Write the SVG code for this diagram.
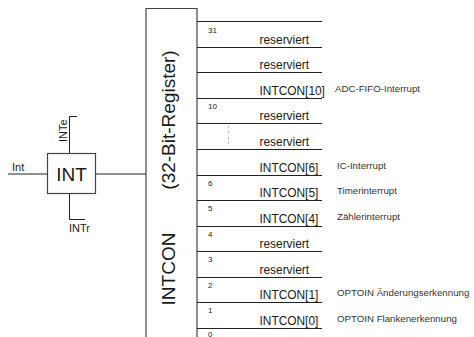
<svg xmlns="http://www.w3.org/2000/svg" width="474" height="337" viewBox="0 0 474 337">
<style>
text{font-family:"Liberation Sans",Arial,sans-serif;fill:#1a1a1a}
.ln{stroke:#222;stroke-width:1;fill:none}
.box{stroke:#444;stroke-width:1.2;fill:#fff}
.reg{font-size:11.9px}
.num{font-size:8px}
.desc{font-size:9.7px;fill:#333}
.big{font-size:19px}
.sm{font-size:11px}
.dot{fill:#555}
</style>
<g id="connectors">
<line class="ln" x1="8" y1="174" x2="47.5" y2="174"/>
<line class="ln" x1="95.5" y1="174" x2="146" y2="174"/>
<polyline class="ln" points="69.5,153.5 69.5,116.5 77,116.5"/>
<polyline class="ln" points="69.5,193.5 69.5,219.5 85,219.5"/>
</g>
<g id="int-block">
<rect class="box" x="47.5" y="153.5" width="48" height="40"/>
<text class="big" x="71.5" y="181" text-anchor="middle">INT</text>
</g>
<g id="int-labels">
<text class="sm" x="12" y="171">Int</text>
<text class="sm" x="67" y="142" transform="rotate(-90 67 142)">INTe</text>
<text class="sm" x="69" y="232">INTr</text>
</g>
<g id="register">
<polyline class="box" fill="none" points="146,337 146,8.5 197,8.5 197,337"/>
<text class="big" x="175" y="120" text-anchor="middle" transform="rotate(-90 175 120)">(32-Bit-Register)</text>
<text class="big" x="175" y="269" text-anchor="middle" transform="rotate(-90 175 269)">INTCON</text>
</g>
<g id="rows">
<g class="ln">
<line x1="197" y1="21.5" x2="322" y2="21.5"/>
<line x1="197" y1="47.5" x2="322" y2="47.5"/>
<line x1="197" y1="72.5" x2="322" y2="72.5"/>
<line x1="197" y1="98.5" x2="322" y2="98.5"/>
<line x1="197" y1="123.5" x2="322" y2="123.5"/>
<line x1="197" y1="149.5" x2="322" y2="149.5"/>
<line x1="197" y1="175.5" x2="322" y2="175.5"/>
<line x1="197" y1="200.5" x2="322" y2="200.5"/>
<line x1="197" y1="226.5" x2="322" y2="226.5"/>
<line x1="197" y1="251.5" x2="322" y2="251.5"/>
<line x1="197" y1="277.5" x2="322" y2="277.5"/>
<line x1="197" y1="302.5" x2="322" y2="302.5"/>
<line x1="197" y1="328.5" x2="322" y2="328.5"/>
</g>
<g id="bit-numbers">
<text class="num" x="208" y="32.5">31</text>
<text class="num" x="208" y="109">10</text>
<text class="num" x="208" y="186">6</text>
<text class="num" x="208" y="211">5</text>
<text class="num" x="208" y="237">4</text>
<text class="num" x="208" y="262">3</text>
<text class="num" x="208" y="288">2</text>
<text class="num" x="208" y="313">1</text>
<text class="num" x="208" y="336.5">0</text>
</g>
<g id="dots">
<circle class="dot" cx="228.5" cy="127" r="0.6"/>
<circle class="dot" cx="228.5" cy="132" r="0.6"/>
<circle class="dot" cx="228.5" cy="138" r="0.6"/>
<circle class="dot" cx="228.5" cy="143" r="0.6"/>
</g>
<g id="bit-labels">
<text class="reg" x="259.5" y="44">reserviert</text>
<text class="reg" x="259.5" y="69">reserviert</text>
<text class="reg" x="259.5" y="95">INTCON[10]</text>
<text class="reg" x="259.5" y="120">reserviert</text>
<text class="reg" x="259.5" y="146">reserviert</text>
<text class="reg" x="259.5" y="172">INTCON[6]</text>
<text class="reg" x="259.5" y="197">INTCON[5]</text>
<text class="reg" x="259.5" y="223">INTCON[4]</text>
<text class="reg" x="259.5" y="248">reserviert</text>
<text class="reg" x="259.5" y="274">reserviert</text>
<text class="reg" x="259.5" y="299">INTCON[1]</text>
<text class="reg" x="259.5" y="325">INTCON[0]</text>
</g>
<g id="descriptions">
<text class="desc" x="335" y="92">ADC-FIFO-Interrupt</text>
<text class="desc" x="337" y="169">IC-Interrupt</text>
<text class="desc" x="337" y="194">Timerinterrupt</text>
<text class="desc" x="337" y="220">Zählerinterrupt</text>
<text class="desc" x="337" y="296">OPTOIN Änderungserkennung</text>
<text class="desc" x="337" y="322">OPTOIN Flankenerkennung</text>
</g>
</g>
</svg>
